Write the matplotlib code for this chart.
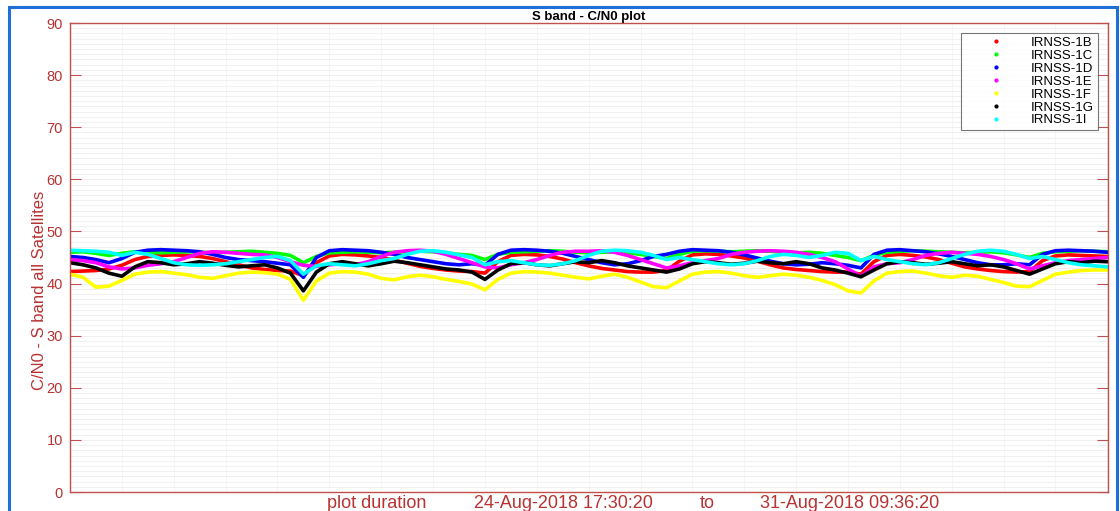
import numpy as np
import matplotlib
matplotlib.use("Agg")
import matplotlib.pyplot as plt
from matplotlib.lines import Line2D
from matplotlib.patches import Rectangle

# horas desde el inicio (24-Aug-2018 17:30:20), una muestra cada 2 h
hours = list(range(0, 161, 2))

sats = ['IRNSS-1B', 'IRNSS-1C', 'IRNSS-1D', 'IRNSS-1E', 'IRNSS-1F', 'IRNSS-1G', 'IRNSS-1I']
colors = ['#ff0000', '#00ff00', '#0000ff', '#ff00ff', '#ffff00', '#000000', '#00ffff']

cn0_1B = [42.3, 42.4, 42.5, 42.8, 43.5, 44.6, 45.2, 45.4, 45.5, 45.4, 45.2, 44.8, 44.2, 43.6, 43.0, 42.7,
          42.5, 42.4, 41.5, 44.0, 45.3, 45.6, 45.5, 45.3, 45.0, 44.5, 43.9, 43.3, 42.9, 42.6, 42.4, 42.3,
          42.0, 44.2, 45.4, 45.6, 45.5, 45.2, 44.7, 44.0, 43.4, 42.9, 42.6, 42.3, 42.2, 42.2, 42.5, 44.3,
          45.5, 45.7, 45.6, 45.3, 44.9, 44.3, 43.6, 43.0, 42.7, 42.5, 42.3, 42.2, 42.2, 41.8, 44.2, 45.4,
          45.6, 45.4, 45.1, 44.6, 43.9, 43.2, 42.8, 42.5, 42.3, 42.2, 42.3, 44.4, 45.3, 45.5, 45.4, 45.3, 45.2]
cn0_1C = [46.0, 46.1, 45.8, 45.4, 45.8, 46.1, 46.0, 45.9, 46.0, 46.1, 46.0, 45.9, 46.0, 46.1, 46.2, 46.0,
          45.8, 45.4, 44.0, 45.2, 45.9, 46.0, 46.1, 46.0, 45.9, 46.0, 46.1, 46.2, 46.1, 45.9, 45.6, 45.4,
          44.6, 45.6, 46.0, 46.1, 46.2, 46.3, 46.2, 46.0, 45.9, 46.0, 46.1, 45.9, 45.6, 45.2, 44.8, 45.6,
          46.2, 46.3, 46.2, 46.1, 46.2, 46.3, 46.2, 46.0, 45.9, 46.0, 45.8, 45.4, 45.0, 44.4, 45.4, 46.0,
          46.2, 46.3, 46.2, 46.1, 46.0, 45.9, 46.0, 46.1, 45.9, 45.5, 45.0, 45.8, 46.1, 46.2, 46.3, 46.2, 46.1]
cn0_1D = [45.2, 45.0, 44.6, 44.0, 44.8, 46.0, 46.4, 46.5, 46.4, 46.3, 46.1, 45.6, 45.0, 44.6, 44.4, 44.2,
          43.9, 43.6, 41.2, 45.0, 46.3, 46.5, 46.4, 46.3, 46.0, 45.6, 45.0, 44.6, 44.2, 43.8, 43.6, 43.8,
          43.5, 45.6, 46.4, 46.5, 46.4, 46.2, 45.8, 45.2, 44.6, 44.0, 43.6, 43.8, 44.4, 45.2, 45.6, 46.2,
          46.5, 46.4, 46.3, 46.0, 45.5, 44.9, 44.3, 43.8, 43.6, 43.7, 44.0, 43.8, 43.5, 43.0, 45.6, 46.4,
          46.5, 46.3, 46.1, 45.7, 45.2, 44.6, 44.0, 43.6, 43.6, 43.8, 43.6, 45.6, 46.3, 46.4, 46.3, 46.2, 46.0]
cn0_1E = [44.6, 44.4, 44.0, 43.2, 42.8, 43.0, 43.5, 43.8, 44.2, 45.0, 45.8, 46.1, 46.0, 45.8, 45.6, 45.5,
          45.0, 44.2, 43.5, 43.3, 43.6, 43.8, 43.6, 44.2, 45.2, 46.0, 46.3, 46.4, 46.2, 45.6, 44.8, 44.0,
          43.2, 43.0, 43.6, 44.0, 44.6, 45.4, 46.0, 46.2, 46.2, 46.3, 46.0, 45.4, 44.6, 43.8, 43.0, 43.4,
          44.0, 44.4, 44.8, 45.6, 46.0, 46.2, 46.3, 46.2, 46.0, 45.6, 45.0, 44.2, 42.8, 41.4, 43.2, 43.8,
          44.0, 44.6, 45.4, 45.8, 46.0, 45.8, 45.6, 45.2, 44.6, 43.8, 42.8, 43.4, 44.0, 44.4, 44.6, 44.8, 45.0]
cn0_1F = [41.8, 41.2, 39.3, 39.5, 40.6, 41.8, 42.2, 42.3, 42.0, 41.7, 41.2, 41.0, 41.5, 42.0, 42.2, 42.1,
          41.8, 40.8, 36.8, 40.5, 42.0, 42.3, 42.2, 41.8, 41.0, 40.7, 41.3, 41.6, 41.3, 40.8, 40.4, 39.9,
          38.8, 40.8, 42.0, 42.3, 42.2, 42.0, 41.6, 41.2, 40.9, 41.4, 41.8, 41.2, 40.3, 39.4, 39.2, 40.5,
          41.8, 42.2, 42.3, 42.0, 41.5, 41.2, 41.5, 41.8, 41.6, 41.2, 40.6, 39.8, 38.6, 38.2, 40.5, 42.0,
          42.3, 42.4, 42.0, 41.5, 41.2, 41.6, 41.4, 40.8, 40.2, 39.5, 39.4, 40.6, 41.8, 42.2, 42.5, 42.6, 42.6]
cn0_1G = [44.0, 43.6, 43.0, 42.0, 41.4, 43.2, 44.2, 44.0, 43.6, 43.8, 44.2, 43.9, 43.5, 43.2, 43.4, 43.6,
          43.0, 42.0, 38.6, 42.2, 43.8, 44.2, 43.8, 43.4, 43.8, 44.3, 44.0, 43.6, 43.2, 42.8, 42.6, 42.2,
          40.8, 42.6, 43.8, 44.0, 43.6, 43.4, 43.8, 44.2, 44.0, 44.4, 44.0, 43.4, 43.0, 42.6, 42.2, 42.8,
          43.8, 44.2, 44.0, 43.7, 43.9, 44.3, 44.0, 43.8, 44.2, 43.8, 43.0, 42.6, 42.0, 41.3, 42.6, 43.8,
          44.2, 44.0, 43.7, 43.9, 44.2, 43.8, 43.4, 43.6, 43.2, 42.5, 41.8, 42.8, 43.8, 44.2, 44.0, 44.3, 44.2]
cn0_1I = [46.4, 46.3, 46.2, 46.0, 45.4, 46.0, 45.6, 44.8, 44.0, 43.6, 43.5, 43.6, 43.8, 44.2, 44.6, 45.0,
          45.2, 44.4, 41.8, 43.4, 43.8, 43.6, 43.4, 43.8, 44.4, 44.8, 45.6, 46.2, 46.3, 46.0, 45.5, 45.0,
          43.6, 44.2, 44.4, 44.0, 43.6, 43.5, 43.8, 44.4, 45.4, 46.2, 46.4, 46.3, 46.0, 45.4, 44.6, 45.0,
          44.6, 44.2, 43.8, 43.6, 43.8, 44.4, 45.2, 45.6, 45.4, 45.0, 45.4, 46.0, 45.8, 44.4, 45.2, 44.6,
          44.2, 43.8, 43.6, 44.0, 44.8, 45.6, 46.2, 46.4, 46.2, 45.6, 44.8, 45.2, 44.6, 44.0, 43.6, 43.4, 43.2]

series = [cn0_1B, cn0_1C, cn0_1D, cn0_1E, cn0_1F, cn0_1G, cn0_1I]

axis_red = '#c05050'
text_red = '#b83232'
font = 'Liberation Sans'

fig = plt.figure(figsize=(11.2, 5.11), dpi=100)
ax = fig.add_axes([70 / 1120, 19 / 511, 1038 / 1120, 469 / 511])

for vals, c in zip(series, colors):
    ax.plot(hours, vals, color=c, linewidth=2.6)

ax.set_xlim(0, 160.1)
ax.set_ylim(0, 90)
ax.set_yticks(np.arange(0, 91, 10))
ax.set_yticks(np.arange(0, 91, 1), minor=True)
ax.set_xticks(np.arange(0, 161, 8))
ax.tick_params(axis='x', which='both', length=0, labelbottom=False)
ax.tick_params(axis='y', which='major', direction='in', length=8, width=0.8,
               color=axis_red, labelcolor=text_red, labelsize=10.5, right=True, pad=5)
ax.tick_params(axis='y', which='minor', length=0)
for lbl in ax.get_yticklabels():
    lbl.set_fontfamily(font)

# rejilla tenue
ax.grid(True, which='both', axis='y', color='#efefef', linewidth=0.6)
ax.grid(True, which='major', axis='x', color='#f4f4f4', linewidth=0.6)
ax.set_axisbelow(True)
for sp in ax.spines.values():
    sp.set_color(axis_red)
    sp.set_linewidth(1.0)

ax.set_title('S band - C/N0 plot', fontsize=9.5, fontweight='bold', pad=2, family=font)
ax.set_ylabel('C/N0 - S band all Satellites', fontsize=12, color=text_red, family=font)
ax.yaxis.set_label_coords(-0.022, 0.429)

# texto de duración bajo el eje
y_dur = 1 - 503 / 511
for txt, xc in [('plot duration', 377), ('24-Aug-2018 17:30:20', 563),
                ('to', 707), ('31-Aug-2018 09:36:20', 850)]:
    fig.text(xc / 1120, y_dur, txt, ha='center', va='center', fontsize=13,
             color=text_red, family=font)

handles = [Line2D([], [], linestyle='', marker='.', markersize=4, color=c) for c in colors]
leg = ax.legend(handles, sats, loc='upper right', bbox_to_anchor=(0.9905, 0.979),
                borderaxespad=0, labelspacing=0.05, handletextpad=0.3,
                handlelength=4.7, borderpad=0.3, fancybox=False,
                prop={'family': font, 'size': 9.5})
leg.get_frame().set_edgecolor('#555555')
leg.get_frame().set_linewidth(0.8)

# marco azul alrededor de la figura
fig.patches.append(Rectangle((9 / 1120, -0.02), 1108 / 1120, 1 - 7 / 511 + 0.02,
                             transform=fig.transFigure, fill=False,
                             edgecolor='#1f6fd6', linewidth=2.2))

fig.savefig('out.png', dpi=100)
